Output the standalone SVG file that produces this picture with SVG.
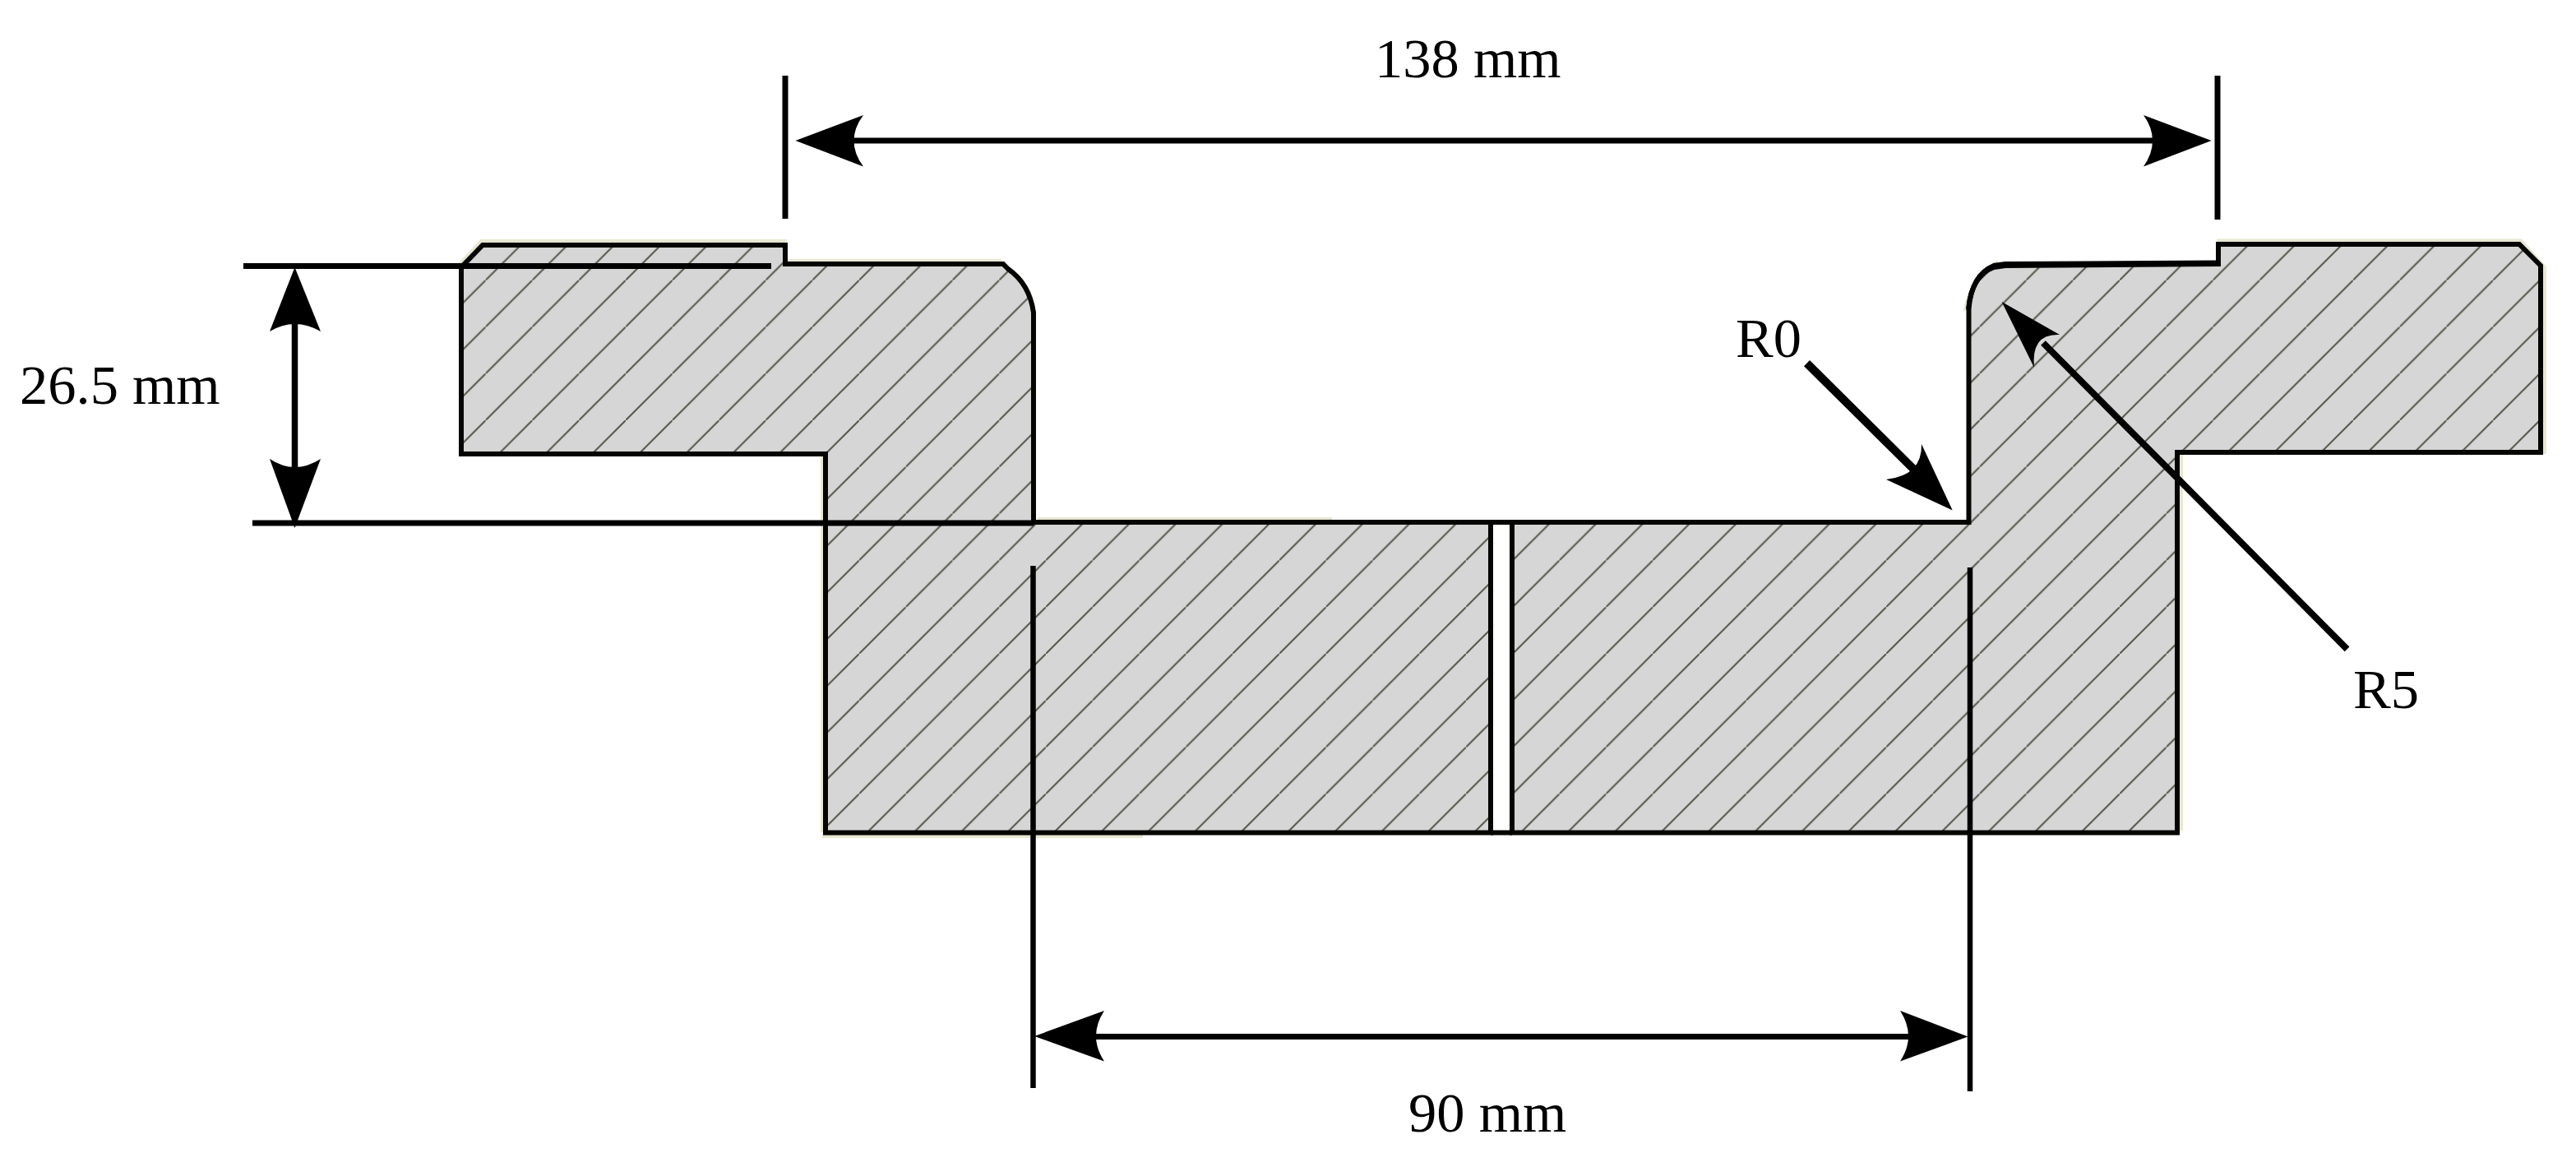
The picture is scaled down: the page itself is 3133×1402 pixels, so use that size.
<svg xmlns="http://www.w3.org/2000/svg" width="3133" height="1402" viewBox="0 0 3133 1402">
<style>
.body{fill:url(#hatch);stroke:#050502;stroke-width:6;stroke-linejoin:miter}
.halo{fill:none;stroke:#e8e7d2;stroke-width:4}
.line{fill:none;stroke:#000;stroke-width:7}
.head{fill:#000;stroke:none}
text{font-family:"Liberation Serif","Times New Roman",serif;font-size:68.5px;fill:#000}
</style>
<defs>
<pattern id="hatch" patternUnits="userSpaceOnUse" x="22.9" y="0" width="56.78" height="56.78">
<rect width="56.78" height="56.78" fill="#d6d6d6"/>
<path d="M-4,60.78L60.78,-4" stroke="#55554a" stroke-width="2" fill="none"/>
</pattern>
</defs>
<rect width="3133" height="1402" fill="#fff"/>
<g id="halos">
<path class="halo" d="M558,322L585,293H957M958,317H1218M1262,631H1620M1000,1017H1390M1000,552V1012"/>
<path class="halo" d="M2390,378Q2395,340 2430,318M2696,292.5H3066L3095,325V552M2653,552V1010"/>
</g>
<g id="section-left">
<path class="body" d="M587,298H955V321H1220L1226,327Q1252,345 1257,380V635H1813V1012.5H1004V552H561V325Z"/>
</g>
<g id="section-right">
<path class="body" d="M1839,635H2394.5V375Q2398,335 2425,325L2439,323L2698,321V297H3064L3090,323V550H2648V1012.5H1839Z"/>
<path d="M2394,376Q2398,334 2425,323L2439,321L2698,319.5" fill="none" stroke="#000" stroke-width="6"/>
</g>
<path id="slot-edges" d="M1813,635H1839M1813,1012.5H1839" fill="none" stroke="#050502" stroke-width="6"/>
<g id="connectors">
<path class="line" stroke-width="7.5" d="M955,92V266M2697,92V267"/>
<path class="line" d="M1036,171H2618"/>
<path class="line" d="M296,323.5H938M307,636H1257"/>
<path class="line" d="M358.5,392V570" style="stroke-width:7.5"/>
<path class="line" d="M1256.5,688V1323M2396,690V1327" style="stroke-width:6.5"/>
<path class="line" d="M1330,1260.5H2323"/>
<path class="line" d="M2197.5,441.6L2330,573" style="stroke-width:10"/>
<path class="line" d="M2485,417L2854.6,789.4" style="stroke-width:8"/>
<path class="head" d="M967.5,171L1050,140Q1027,171 1050,202.5Z"/>
<path class="head" d="M2689.6,171L2607,140Q2629,171 2607,202.5Z"/>
<path class="head" d="M358.5,325L390,403Q358.5,385 328,403Z"/>
<path class="head" d="M358.5,642L390,558Q358.5,578 328,558Z"/>
<path class="head" d="M1258,1260L1343,1229Q1323,1260 1343,1290.5Z"/>
<path class="head" d="M2393.5,1260.6L2311,1229Q2331,1260 2311,1290.5Z"/>
<path class="head" d="M2374.7,620.4L2337,540Q2338,578 2294,583Z"/>
<path class="head" d="M2434.6,367L2505,407Q2470,405 2474,447Z"/>
</g>
<g id="labels">
<text x="1672" y="94">138 mm</text>
<text x="24" y="491">26.5 mm</text>
<text x="1713" y="1376">90 mm</text>
<text x="2111" y="434">R0</text>
<text x="2862" y="861">R5</text>
</g>
</svg>
